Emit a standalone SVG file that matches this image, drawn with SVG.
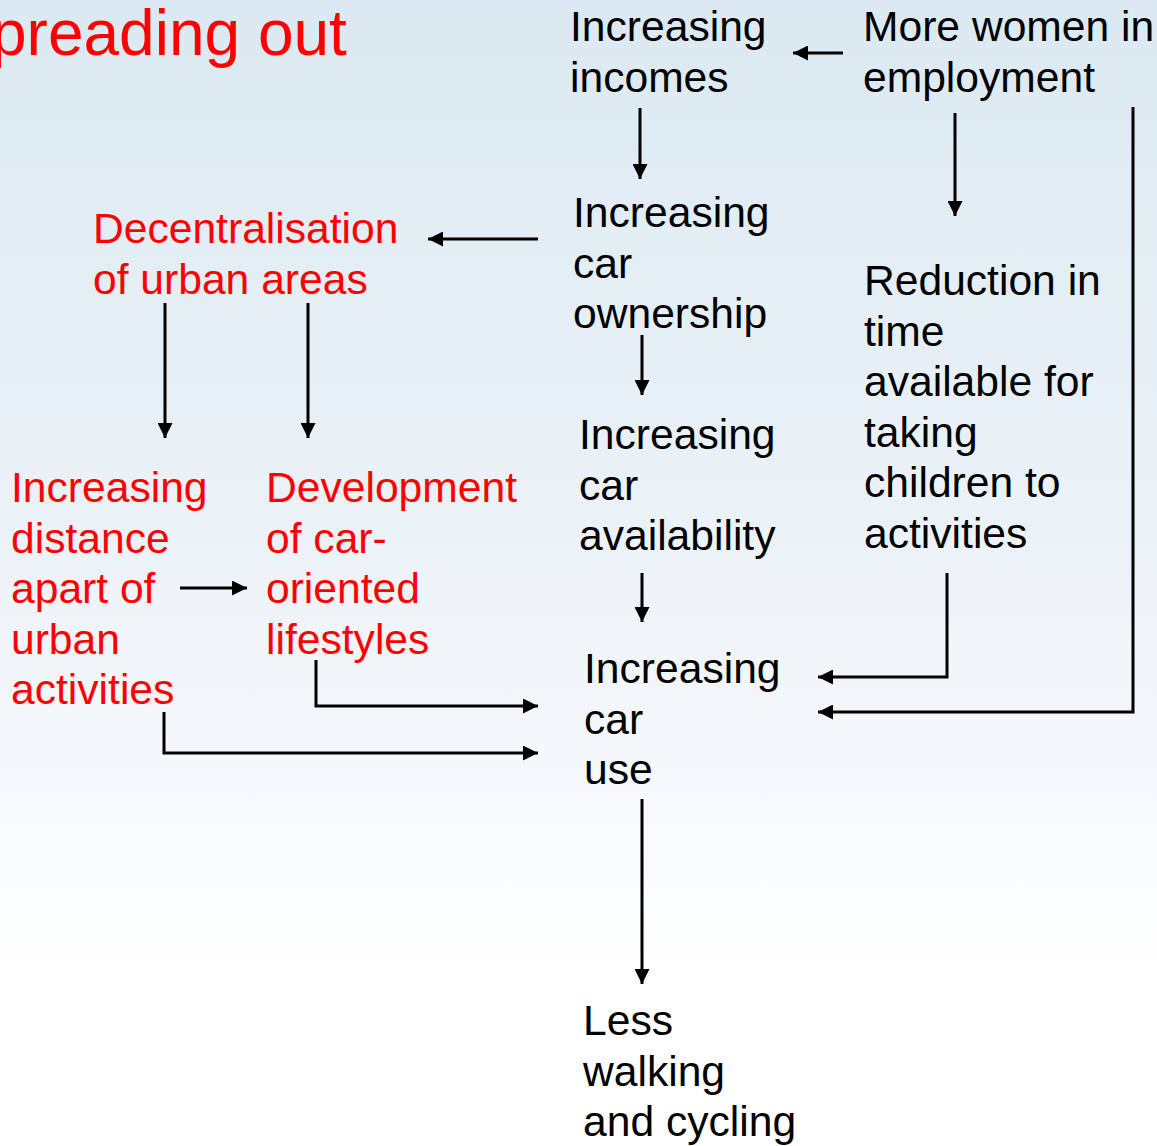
<svg xmlns="http://www.w3.org/2000/svg" width="1157" height="1146" viewBox="0 0 1157 1146">
  <defs>
    <linearGradient id="bg" x1="0" y1="0" x2="0" y2="1">
      <stop offset="0" stop-color="#dbe9f2"/>
      <stop offset="0.5" stop-color="#edf3f8"/>
      <stop offset="0.85" stop-color="#ffffff"/>
      <stop offset="1" stop-color="#ffffff"/>
    </linearGradient>
    <marker id="ah" viewBox="0 0 15 15" refX="15" refY="7.5" markerWidth="15" markerHeight="15" markerUnits="userSpaceOnUse" orient="auto">
      <path d="M0,0 L15,7.5 L0,15 z" fill="#000"/>
    </marker>
    <style>
      text { font-family: "Liberation Sans", Arial, sans-serif; font-size: 42.6px; }
      .k { fill: #000; }
      .r { fill: #ff0000; }
      .c { fill: none; stroke: #000; stroke-width: 3; marker-end: url(#ah); }
    </style>
  </defs>
  <rect x="0" y="0" width="1157" height="1146" fill="url(#bg)"/>

  <text id="title" x="-9" y="55" class="r" style="font-size:64px">preading out</text>

  <g id="node-incomes"><text class="k" x="570" y="41">Increasing<tspan x="570" dy="50.5">incomes</tspan></text></g>
  <g id="node-women"><text class="k" x="863" y="41">More women in<tspan x="863" dy="50.5">employment</tspan></text></g>
  <g id="node-ownership"><text class="k" x="573" y="227">Increasing<tspan x="573" dy="50.5">car</tspan><tspan x="573" dy="50.5">ownership</tspan></text></g>
  <g id="node-decentral"><text class="r" x="93" y="243">Decentralisation<tspan x="93" dy="50.5">of urban areas</tspan></text></g>
  <g id="node-reduction"><text class="k" x="864" y="295">Reduction in<tspan x="864" dy="50.5">time</tspan><tspan x="864" dy="50.5">available for</tspan><tspan x="864" dy="50.5">taking</tspan><tspan x="864" dy="50.5">children to</tspan><tspan x="864" dy="50.5">activities</tspan></text></g>
  <g id="node-availability"><text class="k" x="579" y="449">Increasing<tspan x="579" dy="50.5">car</tspan><tspan x="579" dy="50.5">availability</tspan></text></g>
  <g id="node-distance"><text class="r" x="11" y="502">Increasing<tspan x="11" dy="50.5">distance</tspan><tspan x="11" dy="50.5">apart of</tspan><tspan x="11" dy="50.5">urban</tspan><tspan x="11" dy="50.5">activities</tspan></text></g>
  <g id="node-development"><text class="r" x="266" y="502">Development<tspan x="266" dy="50.5">of car-</tspan><tspan x="266" dy="50.5">oriented</tspan><tspan x="266" dy="50.5">lifestyles</tspan></text></g>
  <g id="node-use"><text class="k" x="584" y="683">Increasing<tspan x="584" dy="50.5">car</tspan><tspan x="584" dy="50.5">use</tspan></text></g>
  <g id="node-less"><text class="k" x="583" y="1035">Less<tspan x="583" dy="50.5">walking</tspan><tspan x="583" dy="50.5">and cycling</tspan></text></g>

  <g id="connectors">
    <path class="c" d="M843,53 L793,53"/>
    <path class="c" d="M640,108 L640,179"/>
    <path class="c" d="M955,113 L955,216"/>
    <path class="c" d="M1133,107 L1133,712 L818,712"/>
    <path class="c" d="M538,239 L428,239"/>
    <path class="c" d="M642,335 L642,395"/>
    <path class="c" d="M642,573 L642,622"/>
    <path class="c" d="M947,573 L947,677 L818,677"/>
    <path class="c" d="M165,303 L165,438"/>
    <path class="c" d="M308,303 L308,438"/>
    <path class="c" d="M180,588 L247,588"/>
    <path class="c" d="M316,660 L316,706 L538,706"/>
    <path class="c" d="M164,712 L164,753 L538,753"/>
    <path class="c" d="M642,799 L642,984"/>
  </g>
</svg>
